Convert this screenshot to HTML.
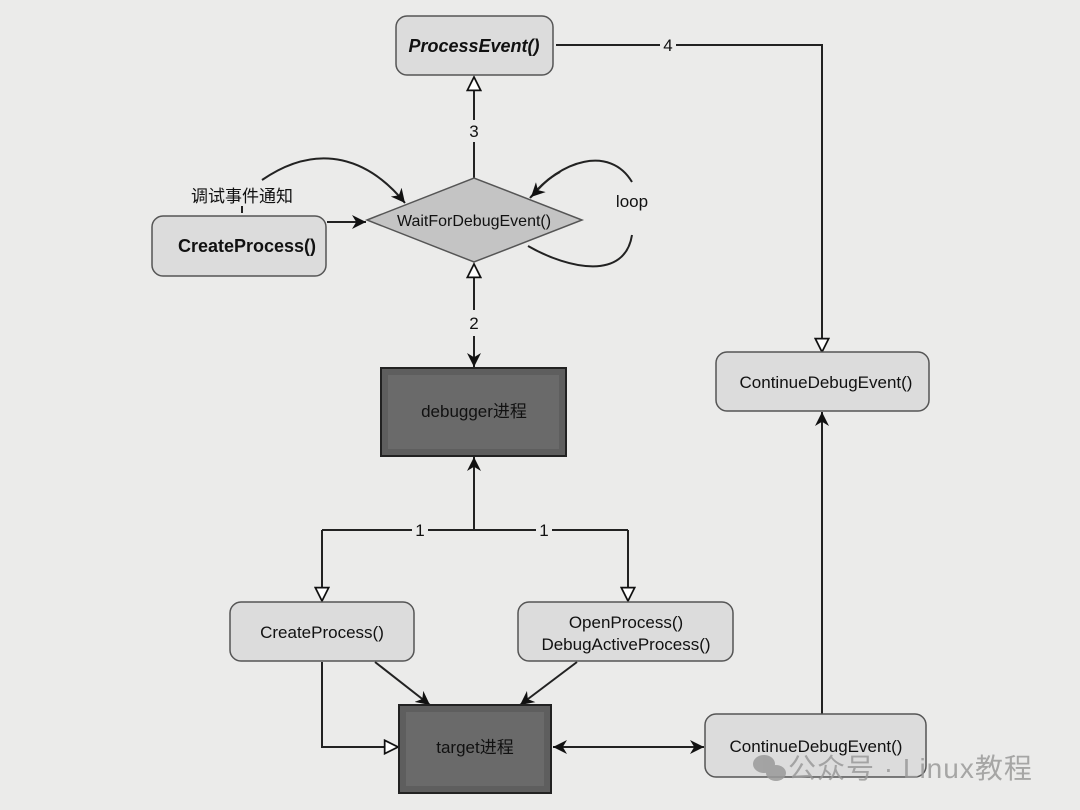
<!DOCTYPE html>
<html><head><meta charset="utf-8"><style>
html,body{margin:0;padding:0;background:#ebebea;}
svg{display:block}
text{font-family:"Liberation Sans","Noto Sans CJK SC",sans-serif;fill:#111;}
</style></head><body>
<svg width="1080" height="810" viewBox="0 0 1080 810" xmlns="http://www.w3.org/2000/svg">
<defs>
<marker id="f" viewBox="0 0 10 10" refX="10" refY="5" markerWidth="14" markerHeight="14" markerUnits="userSpaceOnUse" orient="auto-start-reverse"><path d="M0,0 L10,5 L0,10 L3,5 z" fill="#111"/></marker>
<marker id="h" viewBox="0 0 12 12" refX="11" refY="6" markerWidth="16" markerHeight="16" markerUnits="userSpaceOnUse" orient="auto"><path d="M1,1 L11,6 L1,11 z" fill="#fff" stroke="#111" stroke-width="1.3"/></marker>
</defs>
<rect width="1080" height="810" fill="#ebebea"/>
<g stroke="#222" stroke-width="2" fill="none">
<path d="M556,45 H822 V352" marker-end="url(#h)"/>
<path d="M474,178 V77" marker-end="url(#h)"/>
<path d="M327,222 H366" marker-end="url(#f)"/>
<path d="M242,213 V206"/>
<path d="M262,180 C320,140 370,160 405,203" marker-end="url(#f)"/>
<path d="M528,246 C570,270 625,280 632,235 M632,182 C610,145 560,160 530,198" />
<path d="M560,172 C545,180 538,190 531,197" marker-end="url(#f)"/>
<path d="M474,310 V264" marker-end="url(#h)"/>
<path d="M474,336 V367" marker-end="url(#f)"/>
<path d="M474,530 V457" marker-end="url(#f)"/>
<path d="M322,530 H628"/>
<path d="M322,530 V601" marker-end="url(#h)"/>
<path d="M628,530 V601" marker-end="url(#h)"/>
<path d="M375,662 L430,705" marker-end="url(#f)"/>
<path d="M577,662 L520,705" marker-end="url(#f)"/>
<path d="M322,662 V747 H398" marker-end="url(#h)"/>
<path d="M553,747 H704" marker-start="url(#f)" marker-end="url(#f)"/>
<path d="M822,714 V412" marker-end="url(#f)"/>
</g>
<rect x="660" y="36" width="16" height="18" fill="#ebebea"/>
<rect x="464" y="120" width="20" height="22" fill="#ebebea"/>
<rect x="464" y="310" width="20" height="26" fill="#ebebea"/>
<rect x="412" y="521" width="16" height="18" fill="#ebebea"/>
<rect x="536" y="521" width="16" height="18" fill="#ebebea"/>
<rect x="622" y="185" width="22" height="40" fill="#ebebea"/>
<g font-size="17" text-anchor="middle">
<text x="668" y="51">4</text>
<text x="474" y="137">3</text>
<text x="474" y="329">2</text>
<text x="420" y="536">1</text>
<text x="544" y="536">1</text>
<text x="632" y="207">loop</text>
<text x="242" y="202">调试事件通知</text>
</g>
<g stroke="#555" stroke-width="1.5" fill="#dcdcdc">
<rect x="396" y="16" width="157" height="59" rx="11"/>
<rect x="152" y="216" width="174" height="60" rx="11"/>
<rect x="716" y="352" width="213" height="59" rx="11"/>
<rect x="230" y="602" width="184" height="59" rx="11"/>
<rect x="518" y="602" width="215" height="59" rx="11"/>
<rect x="705" y="714" width="221" height="63" rx="11"/>
<polygon points="367,220 474,178 582,220 474,262" fill="#c4c4c4"/>
</g>
<rect x="381" y="368" width="185" height="88" fill="#5e5e5e" stroke="#222" stroke-width="2"/>
<rect x="388" y="375" width="171" height="74" fill="#6a6a6a"/>
<rect x="399" y="705" width="152" height="88" fill="#5e5e5e" stroke="#222" stroke-width="2"/>
<rect x="406" y="712" width="138" height="74" fill="#6a6a6a"/>
<g text-anchor="middle" font-size="17">
<text x="474" y="52" font-size="18" font-style="italic" font-weight="bold">ProcessEvent()</text>
<text x="247" y="252" font-size="18" font-weight="bold">CreateProcess()</text>
<text x="474" y="226" font-size="16">WaitForDebugEvent()</text>
<text x="474" y="417">debugger进程</text>
<text x="826" y="388">ContinueDebugEvent()</text>
<text x="322" y="638">CreateProcess()</text>
<text x="626" y="628">OpenProcess()</text>
<text x="626" y="650">DebugActiveProcess()</text>
<text x="475" y="753">target进程</text>
<text x="816" y="752">ContinueDebugEvent()</text>
</g>
<g fill="#9a9a9a" opacity="0.85">
<ellipse cx="764" cy="764" rx="11" ry="9"/>
<ellipse cx="776" cy="773" rx="10" ry="8"/>
<text x="788" y="778" font-size="28" letter-spacing="1" style="fill:#9a9a9a">公众号 · Linux教程</text>
</g>
</svg>
</body></html>
